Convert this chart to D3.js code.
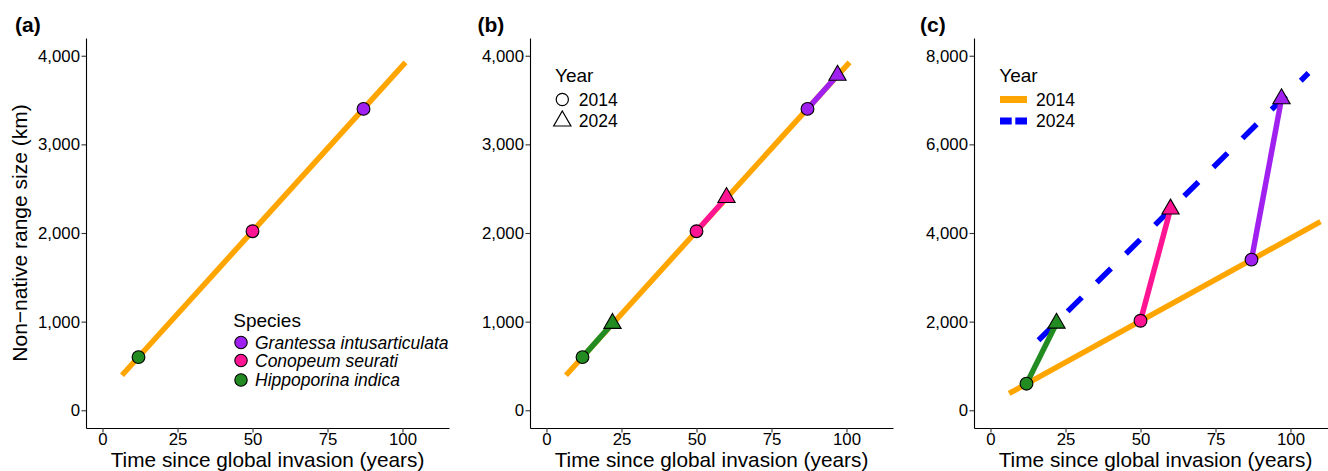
<!DOCTYPE html>
<html>
<head>
<meta charset="utf-8">
<script src="https://cdn.jsdelivr.net/npm/d3@7"></script>
<style>
  html, body { margin: 0; padding: 0; background: #fff; }
  svg { display: block; font-family: "Liberation Sans", Arial, Helvetica, sans-serif; }
</style>
</head>
<body>
<svg id="chart" width="1328" height="471"></svg>
<script>
// ---------------- DATA ----------------
const species = ["Grantessa intusarticulata", "Conopeum seurati", "Hippoporina indica"];
const speciesColors = ["#A020F0", "#FF1493", "#228B22"];
const time2014 = [87, 50, 12];
const range2014 = [3400, 2020, 600];
const time2024 = [97, 60, 22];
const range2024b = [3780, 2400, 980];
const range2024c = [7030, 4540, 1965];
const trendAB_x = [6.5, 101];
const trendAB_y = [395, 3925];
const trendC2014_x = [6.2, 110];
const trendC2014_y = [380, 4255];
const trendC2024_x = [16, 106];
const trendC2024_y = [1580, 7610];
const xTicks = [0, 25, 50, 75, 100];
const yTicksAB = [0, 1000, 2000, 3000, 4000];
const yTicksC = [0, 2000, 4000, 6000, 8000];
const years = ["2014", "2024"];
const panelLabels = ["(a)", "(b)", "(c)"];
const xTitle = "Time since global invasion (years)";
const yTitle = "Non\u2212native range size (km)";

// ---------------- LAYOUT ----------------
const svg = d3.select("#chart");
const FONT = '"Liberation Sans", Arial, Helvetica, sans-serif';
const pTop = 38, pBottom = 428;
const panels = [
  { x0: 86, x1: 449, yDomain: [-200, 4200], yTicks: yTicksAB, labelX: 15 },
  { x0: 530, x1: 893, yDomain: [-200, 4200], yTicks: yTicksAB, labelX: 477.5 },
  { x0: 974, x1: 1337, yDomain: [-400, 8400], yTicks: yTicksC, labelX: 920 }
];
const xDomain = [-5.5, 115.5];
const ORANGE = "#FFA500", BLUE = "#0000FF";
const LW = 5.5;
const PT = 6.4; // point size (circle radius)

function triPath(s) {
  const r = 1.555 * s, xc = 1.347 * s, yc = 0.7775 * s;
  return `M0,${-r}L${xc},${yc}L${-xc},${yc}Z`;
}

panels.forEach((p, i) => {
  const x = d3.scaleLinear().domain(xDomain).range([p.x0, p.x1]);
  const y = d3.scaleLinear().domain(p.yDomain).range([pBottom, pTop]);
  p.x = x; p.y = y;
  const g = svg.append("g");

  const ax = g.append("g").attr("transform", `translate(0,${pBottom})`)
    .call(d3.axisBottom(x).tickValues(xTicks).tickSize(4.5).tickSizeOuter(0).tickPadding(0.4));
  const ay = g.append("g").attr("transform", `translate(${p.x0},0)`)
    .call(d3.axisLeft(y).tickValues(p.yTicks).tickSize(4.5).tickSizeOuter(0).tickPadding(1.5).tickFormat(d3.format(",")));
  [ax, ay].forEach(a => {
    a.select(".domain").attr("stroke", "#000").attr("stroke-width", 1.1);
    a.selectAll(".tick line").attr("stroke", "#333").attr("stroke-width", 1.1);
    a.selectAll(".tick text").attr("fill", "#000").style("font-family", FONT).style("font-size", "16.8px");
  });

  g.append("text").attr("x", (p.x0 + p.x1) / 2).attr("y", 467)
    .attr("text-anchor", "middle").style("font-family", FONT).style("font-size", "20.8px")
    .attr("fill", "#000").text(xTitle);

  g.append("text").attr("x", p.labelX).attr("y", 31.5)
    .style("font-family", FONT).style("font-size", "21px").style("font-weight", "bold")
    .attr("fill", "#000").text(panelLabels[i]);
});

svg.append("text").attr("transform", `translate(26.5,${(pTop + pBottom) / 2}) rotate(-90)`)
  .attr("text-anchor", "middle").style("font-family", FONT).style("font-size", "21px")
  .attr("fill", "#000").text(yTitle);

const line = (x, y) => d3.line().x(d => x(d[0])).y(d => y(d[1]));

// ---------- Panel a ----------
{
  const p = panels[0], g = svg.append("g");
  g.append("path").datum(d3.zip(trendAB_x, trendAB_y))
    .attr("d", line(p.x, p.y)).attr("fill", "none").attr("stroke", ORANGE).attr("stroke-width", LW);
  g.selectAll("circle.pt").data(species).join("circle")
    .attr("cx", (d, i) => p.x(time2014[i])).attr("cy", (d, i) => p.y(range2014[i]))
    .attr("r", PT).attr("fill", (d, i) => speciesColors[i]).attr("stroke", "#000").attr("stroke-width", 1.1);

  const lg = svg.append("g");
  lg.append("text").attr("x", 233.3).attr("y", 327).style("font-family", FONT).style("font-size", "19px").text("Species");
  const keyY = [342.5, 360.5, 380];
  species.forEach((s, i) => {
    lg.append("circle").attr("cx", 241).attr("cy", keyY[i]).attr("r", 6.2)
      .attr("fill", speciesColors[i]).attr("stroke", "#000").attr("stroke-width", 1.1);
    lg.append("text").attr("x", 255).attr("y", keyY[i] + 6.2)
      .style("font-family", FONT).style("font-size", "17.5px").style("font-style", "italic").text(s);
  });
}

// ---------- Panel b ----------
{
  const p = panels[1], g = svg.append("g");
  g.append("path").datum(d3.zip(trendAB_x, trendAB_y))
    .attr("d", line(p.x, p.y)).attr("fill", "none").attr("stroke", ORANGE).attr("stroke-width", LW);
  species.forEach((s, i) => {
    g.append("line").attr("x1", p.x(time2014[i])).attr("y1", p.y(range2014[i]))
      .attr("x2", p.x(time2024[i])).attr("y2", p.y(range2024b[i]))
      .attr("stroke", speciesColors[i]).attr("stroke-width", LW);
  });
  species.forEach((s, i) => {
    g.append("circle").attr("cx", p.x(time2014[i])).attr("cy", p.y(range2014[i])).attr("r", PT)
      .attr("fill", speciesColors[i]).attr("stroke", "#000").attr("stroke-width", 1.1);
  });
  species.forEach((s, i) => {
    g.append("path").attr("d", triPath(PT))
      .attr("transform", `translate(${p.x(time2024[i])},${p.y(range2024b[i])})`)
      .attr("fill", speciesColors[i]).attr("stroke", "#000").attr("stroke-width", 1.1);
  });
  const lg = svg.append("g");
  lg.append("text").attr("x", 555).attr("y", 81.5).style("font-family", FONT).style("font-size", "19px").text("Year");
  const keyY = [99.5, 121];
  lg.append("circle").attr("cx", 562.3).attr("cy", keyY[0]).attr("r", 6.1)
    .attr("fill", "none").attr("stroke", "#000").attr("stroke-width", 1.2);
  lg.append("path").attr("d", triPath(6.4)).attr("transform", `translate(562.3,${keyY[1]})`)
    .attr("fill", "none").attr("stroke", "#000").attr("stroke-width", 1.2);
  years.forEach((yr, i) => {
    lg.append("text").attr("x", 578.7).attr("y", keyY[i] + 6.2)
      .style("font-family", FONT).style("font-size", "17.5px").text(yr);
  });
}

// ---------- Panel c ----------
{
  const p = panels[2], g = svg.append("g");
  g.append("path").datum(d3.zip(trendC2014_x, trendC2014_y))
    .attr("d", line(p.x, p.y)).attr("fill", "none").attr("stroke", ORANGE).attr("stroke-width", LW);
  g.append("path").datum(d3.zip(trendC2024_x, trendC2024_y))
    .attr("d", line(p.x, p.y)).attr("fill", "none").attr("stroke", BLUE).attr("stroke-width", LW)
    .attr("stroke-dasharray", "20 21");
  species.forEach((s, i) => {
    g.append("line").attr("x1", p.x(time2014[i])).attr("y1", p.y(range2014[i]))
      .attr("x2", p.x(time2024[i])).attr("y2", p.y(range2024c[i]))
      .attr("stroke", speciesColors[i]).attr("stroke-width", LW);
  });
  species.forEach((s, i) => {
    g.append("circle").attr("cx", p.x(time2014[i])).attr("cy", p.y(range2014[i])).attr("r", PT)
      .attr("fill", speciesColors[i]).attr("stroke", "#000").attr("stroke-width", 1.1);
  });
  species.forEach((s, i) => {
    g.append("path").attr("d", triPath(PT))
      .attr("transform", `translate(${p.x(time2024[i])},${p.y(range2024c[i])})`)
      .attr("fill", speciesColors[i]).attr("stroke", "#000").attr("stroke-width", 1.1);
  });
  const lg = svg.append("g");
  lg.append("text").attr("x", 999.3).attr("y", 81.5).style("font-family", FONT).style("font-size", "19px").text("Year");
  const keyY = [99.5, 121];
  lg.append("line").attr("x1", 1000).attr("x2", 1027).attr("y1", keyY[0]).attr("y2", keyY[0])
    .attr("stroke", ORANGE).attr("stroke-width", 7);
  lg.append("line").attr("x1", 1000).attr("x2", 1027).attr("y1", keyY[1]).attr("y2", keyY[1])
    .attr("stroke", BLUE).attr("stroke-width", 7).attr("stroke-dasharray", "11.7 3.6");
  years.forEach((yr, i) => {
    lg.append("text").attr("x", 1036).attr("y", keyY[i] + 6.2)
      .style("font-family", FONT).style("font-size", "17.5px").text(yr);
  });
}
</script>
</body>
</html>
